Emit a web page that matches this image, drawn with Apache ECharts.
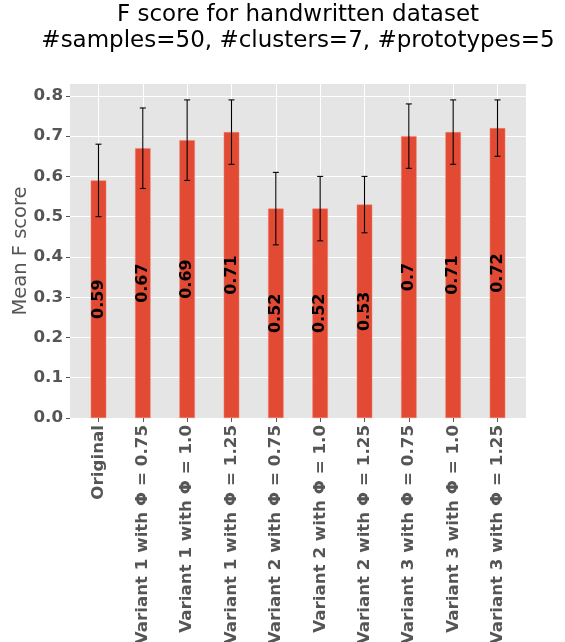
<!DOCTYPE html>
<html>
<head>
<meta charset="utf-8">
<script src="https://cdn.jsdelivr.net/npm/echarts@6/dist/echarts.min.js"></script>
<style>
  html, body { margin: 0; padding: 0; background: #ffffff; }
  #chart { width: 565px; height: 642px; }
</style>
</head>
<body>
<div id="chart"></div>
<script>
// Experiment variants along the x axis
const categories = [
  'Original',
  'Variant 1 with Φ = 0.75',
  'Variant 1 with Φ = 1.0',
  'Variant 1 with Φ = 1.25',
  'Variant 2 with Φ = 0.75',
  'Variant 2 with Φ = 1.0',
  'Variant 2 with Φ = 1.25',
  'Variant 3 with Φ = 0.75',
  'Variant 3 with Φ = 1.0',
  'Variant 3 with Φ = 1.25'
];
// Mean F score per variant
const meanScores = [0.59, 0.67, 0.69, 0.71, 0.52, 0.52, 0.53, 0.70, 0.71, 0.72];
// Standard deviation drawn as error bars
const stdDevs = [0.09, 0.10, 0.10, 0.08, 0.09, 0.08, 0.07, 0.08, 0.08, 0.07];
// Y axis tick values
const yTicks = [0, 0.1, 0.2, 0.3, 0.4, 0.5, 0.6, 0.7, 0.8];

const positions = categories.map((_, i) => i);
const barHalf = 0.175;           // bar width 0.35 in data units
const xPad = (categories.length - 1 + 2 * barHalf) * 0.05;
const xMin = -barHalf - xPad;
const xMax = categories.length - 1 + barHalf + xPad;
const yMax = Math.max(...meanScores.map((m, i) => m + stdDevs[i])) * 1.05;

const textGray = '#555555';
const font = 'DejaVu Sans';

const chart = echarts.init(document.getElementById('chart'), null, { renderer: 'canvas' });

chart.setOption({
  backgroundColor: '#ffffff',
  animation: false,
  textStyle: { fontFamily: font },
  graphic: [{
    type: 'text',
    x: 298,
    y: 2,
    style: {
      text: 'F score for handwritten dataset\n#samples=50, #clusters=7, #prototypes=5',
      fontFamily: font,
      fontSize: 23,
      lineHeight: 26,
      fill: '#000000',
      align: 'center',
      verticalAlign: 'top'
    }
  }],
  grid: {
    left: 70, right: 39, top: 84, bottom: 224,
    containLabel: false,
    outerBoundsMode: 'none',
    show: true,
    backgroundColor: '#E5E5E5',
    borderWidth: 0
  },
  xAxis: {
    type: 'value',
    min: xMin,
    max: xMax,
    axisLine: { show: false, onZero: false },
    axisTick: {
      show: true, customValues: positions, length: 4,
      lineStyle: { color: textGray, width: 1 }
    },
    axisLabel: {
      customValues: positions,
      rotate: 90,
      margin: 7,
      color: textGray,
      fontFamily: font,
      fontWeight: 'bold',
      fontSize: 16.7,
      formatter: v => categories[Math.round(v)]
    },
    splitLine: { show: true, lineStyle: { color: '#ffffff', width: 1 } }
  },
  yAxis: {
    type: 'value',
    min: 0,
    max: yMax,
    name: 'Mean F score',
    nameLocation: 'middle',
    nameGap: 39,
    nameMoveOverlap: false,
    nameTextStyle: { color: textGray, fontFamily: font, fontSize: 19.5 },
    axisLine: { show: false, onZero: false },
    axisTick: {
      show: true, customValues: yTicks, length: 4,
      lineStyle: { color: textGray, width: 1 }
    },
    axisLabel: {
      customValues: yTicks,
      margin: 7,
      color: textGray,
      fontFamily: font,
      fontWeight: 'bold',
      fontSize: 16.7,
      formatter: v => v.toFixed(1)
    },
    splitLine: { show: true, lineStyle: { color: '#ffffff', width: 1 } }
  },
  series: [
    {
      type: 'bar',
      data: meanScores.map((m, i) => [positions[i], m]),
      barWidth: 15.5,
      itemStyle: { color: '#E24A33', borderColor: '#F07F6C', borderWidth: 0.5 },
      label: {
        show: true,
        position: 'inside',
        rotate: 90,
        color: '#000000',
        fontFamily: font,
        fontWeight: 'bold',
        fontSize: 16,
        formatter: p => String(p.value[1])
      },
      z: 2
    },
    {
      type: 'custom',
      data: meanScores.map((m, i) => [positions[i], m - stdDevs[i], m + stdDevs[i]]),
      renderItem: (params, api) => {
        const x = api.value(0);
        const lo = api.coord([x, api.value(1)]);
        const hi = api.coord([x, api.value(2)]);
        const cap = 3;
        const style = { stroke: '#000000', lineWidth: 1.1 };
        return {
          type: 'group',
          children: [
            { type: 'line', shape: { x1: lo[0], y1: lo[1], x2: hi[0], y2: hi[1] }, style },
            { type: 'line', shape: { x1: hi[0] - cap, y1: hi[1], x2: hi[0] + cap, y2: hi[1] }, style },
            { type: 'line', shape: { x1: lo[0] - cap, y1: lo[1], x2: lo[0] + cap, y2: lo[1] }, style }
          ]
        };
      },
      z: 3
    }
  ]
});
</script>
</body>
</html>
